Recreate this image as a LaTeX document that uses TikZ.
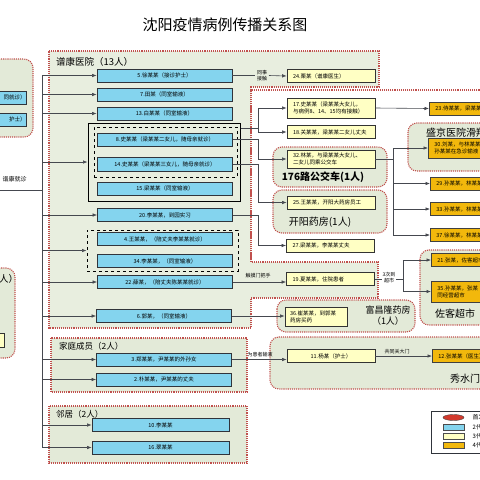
\documentclass[tikz,border=0pt]{standalone}
\usepackage{fontspec}
\usepackage{tikz}
\usetikzlibrary{arrows.meta,calc,positioning,shapes.geometric}
\setmainfont{Noto Sans CJK SC}
\definecolor{boxblue}{HTML}{84D4EE}
\definecolor{boxyellow}{HTML}{FFFFC4}
\definecolor{boxgold}{HTML}{F2B80C}
\definecolor{groupgreen}{HTML}{E3EAD8}
\definecolor{hospgreen}{HTML}{E8EEDF}
\definecolor{dotred}{HTML}{C0504D}
\definecolor{darkgray}{HTML}{30343B}
\definecolor{legendred}{HTML}{D23A2E}
\tikzset{
  bluebox/.style={draw=darkgray, line width=0.8pt, fill=boxblue, minimum width=135pt, minimum height=13pt, inner sep=1pt, font=\fontsize{5.5}{6.5}\selectfont},
  yellowbox/.style={draw=black!80, line width=0.8pt, fill=boxyellow, text width=76pt, inner xsep=6pt, inner ysep=1pt, minimum height=13pt, align=left, font=\fontsize{5.5}{7}\selectfont},
  goldbox/.style={draw=black!75, line width=0.8pt, fill=boxgold, anchor=west, text width=90pt, inner xsep=6pt, inner ysep=1pt, minimum height=13pt, align=left, font=\fontsize{5.5}{7}\selectfont},
  groupbox/.style={draw=dotred, densely dotted, line width=1.1pt, fill=groupgreen, rounded corners=9pt},
  squaregroup/.style={draw=dotred, densely dotted, line width=1.1pt, fill=groupgreen},
  grouptitle/.style={font=\fontsize{9.5}{11}\selectfont, inner sep=0pt, align=center},
  link/.style={darkgray!90, line width=0.6pt},
  arr/.style={link, -{Latex[length=4.5pt,width=3.5pt]}},
  lbl/.style={font=\fontsize{5}{6}\selectfont, inner sep=0.5pt, align=center}
}
\begin{document}
\begin{tikzpicture}[x=1pt,y=-1pt]
  \useasboundingbox (0,0) rectangle (480,480);
  \clip (0,0) rectangle (480,480);
  \node[font=\fontsize{15}{17}\selectfont] (title) at (225,25) {沈阳疫情病例传播关系图};

  % regions
  \draw[squaregroup, fill=hospgreen] (49,51) -- (379,51) -- (379,87) -- (251,87) -- (251,262) -- (378,262) -- (378,298) -- (251,298) -- (251,328) -- (49,328) -- cycle;
  \draw[draw=dotred, densely dotted, line width=1.1pt] (490,90) -- (251,90) -- (251,262);
  \node[grouptitle, anchor=west] (hosp) at (56,62) {谱康医院（13人）};
  \draw[groupbox] (-30,59) rectangle (33,137);
  \draw[groupbox] (-40,268) rectangle (15,358);
  \node[grouptitle, anchor=west] (leftcut) at (-1,279) {人）};
  \draw[groupbox] (273,147) rectangle (387,187);
  \node[grouptitle, font=\fontsize{10}{12}\selectfont\bfseries] (bus) at (323,177) {176路公交车(1人)};
  \draw[groupbox] (273,190) rectangle (387,233);
  \node[grouptitle, font=\fontsize{10}{12}\selectfont] (kaiyang) at (320,222) {开阳药房(1人)};
  \draw[groupbox] (277,300) rectangle (415,332);
  \node[grouptitle, font=\fontsize{9}{11}\selectfont] (fuchang) at (388,316) {富昌隆药房\\（1人）};
  \draw[groupbox] (408,123) rectangle (520,171);
  \node[grouptitle, anchor=west, font=\fontsize{10}{12}\selectfont] (shengjing) at (426,133) {盛京医院滑翔院区};
  \draw[groupbox] (420,250) rectangle (520,325);
  \node[grouptitle, font=\fontsize{10}{12}\selectfont] (zuoke) at (455,314) {佐客超市};
  \draw[groupbox] (270,337) rectangle (520,389);
  \node[grouptitle, anchor=west, font=\fontsize{10}{12}\selectfont] (xiushui) at (450,379) {秀水门诊};
  \draw[squaregroup] (51,338) rectangle (247,392);
  \node[grouptitle, anchor=west, font=\fontsize{8.5}{10}\selectfont] (family) at (59,346) {家庭成员（2人）};
  \draw[squaregroup] (49,406) rectangle (247,463);
  \node[grouptitle, anchor=west, font=\fontsize{8.5}{10}\selectfont] (neighbour) at (56,414) {邻居（2人）};

  % blue cases
  \node[bluebox, anchor=east, text width=60pt, align=right, minimum width=0pt] (pL1) at (27,97.5) {同就诊）};
  \node[bluebox, anchor=east, text width=60pt, align=right, minimum width=0pt] (pL2) at (27,119.5) {护士）};
  \node[draw=black!80, line width=0.8pt, fill=boxyellow, anchor=east, minimum width=50pt, minimum height=14pt] (pL3) at (5,340) {};
  \node[draw=black, line width=1pt, minimum width=152pt, minimum height=78pt] (sbox) at (164,162) {};
  \node[draw=black, dashed, line width=1pt, minimum width=143pt, minimum height=50pt] (dbox) at (165.5,152) {};
  \node[draw=black, dashed, line width=1pt, minimum width=151pt, minimum height=41pt] (dbox2) at (162.5,250.5) {};
  \node[bluebox] (p5) at (164.5,75.5) {5.徐某某（接诊护士）};
  \node[bluebox] (p7) at (164.5,94.5) {7.田某（同室输液）};
  \node[bluebox] (p13) at (164.5,113.5) {13.白某某（同室输液）};
  \node[bluebox] (p8) at (165,139.5) {8.史某某（梁某某二女儿，随母亲就诊）};
  \node[bluebox, minimum height=14pt] (p14) at (165,164.5) {14.史某某（梁某某三女儿，随母亲就诊）};
  \node[bluebox] (p15) at (165,188.5) {15.梁某某（同室输液）};
  \node[bluebox] (p20) at (165,215) {20.李某某，到园实习};
  \node[bluebox] (p4) at (165,239) {4.王某某，（陪丈夫李某某就诊）};
  \node[bluebox] (p34) at (165,261) {34.李某某，（同室输液）};
  \node[bluebox] (p22) at (165,282) {22.薛某，（陪丈夫陈某某就诊）};
  \node[bluebox] (p6) at (164,316) {6.郭某，（同室输液）};
  \node[bluebox] (p3) at (164,359.5) {3.郑某某，尹某某的外孙女};
  \node[bluebox] (p2) at (164,379.5) {2.朴某某，尹某某的丈夫};
  \node[bluebox, minimum width=137pt] (p10) at (160.5,425) {10.李某某};
  \node[bluebox, minimum width=137pt] (p16) at (160.5,447.5) {16.翠某某};

  % yellow cases
  \node[yellowbox] (p24) at (331,76) {24.栗某（谱康医生）};
  \node[yellowbox, minimum height=20pt] (p17) at (331,108) {17.史某某（梁某某大女儿，\\与病例8、14、15均有接触）};
  \node[yellowbox] (p18) at (331,132) {18.关某某，梁某某二女儿丈夫};
  \node[yellowbox, minimum height=18pt] (p32) at (331,159) {32.林某，与梁某某大女儿、\\二女儿同乘公交车};
  \node[yellowbox] (p25) at (331,202.5) {25.王某某，开阳大药房员工};
  \node[yellowbox] (p27) at (330.5,245.5) {27.梁某某，李某某丈夫};
  \node[yellowbox] (p19) at (330.5,279) {19.夏某某，住院患者};
  \node[yellowbox, text width=52pt, inner xsep=5pt, minimum height=19pt] (p36) at (316,316.5) {36.崔某某，到郭某\\药房买药};
  \node[yellowbox, align=center] (p11) at (331,356) {11.杨某（护士）};

  % gold cases
  \node[goldbox] (p23) at (429,108.5) {23.侍某某，梁某某};
  \node[goldbox, minimum height=20pt] (p30) at (428,148) {30.刘某，与林某某\\孙某某在急诊输液};
  \node[goldbox] (p29) at (430,183.5) {29.孙某某，林某某};
  \node[goldbox] (p33) at (430,209) {33.孙某某，林某某};
  \node[goldbox] (p37) at (430,235) {37.徐某某，林某某};
  \node[goldbox] (p21) at (431,260) {21.张某，佐客超市};
  \node[goldbox, minimum height=21pt] (p35) at (431,291.5) {35.孙某某，张某\\同经营超市};
  \node[goldbox] (p12) at (432,356) {12.张某某（医生）};

  % trunk from the left
  \coordinate (trunk) at (42,0);
  \coordinate (entry) at (0,190);
  \draw[link] (trunk |- p5.west) -- (trunk |- p16.west);
  \draw[link] (entry) -- (entry -| trunk);
  \node[lbl, font=\fontsize{6}{7}\selectfont, anchor=south west] (entrylbl) at (2,183) {谱康就诊};
  \foreach \n in {p5,p7,p13,sbox,p20,dbox2,p22,p6,p3,p2,p10,p16}
    \draw[arr] (trunk |- \n.west) -- (\n.west);

  % spread
  \coordinate (bend) at (258,0);
  \draw[link] (p5.east) -- (255,75.5);
  \draw[arr] (269,75.5) -- (p24.west);
  \node[lbl] (tongshi) at (262,75.5) {同事\\接触};
  \coordinate (j17) at (258,128);
  \draw[link] (sbox.east |- j17) -- (j17);
  \draw[link] (j17 |- p17.west) -- (j17 |- p18.west);
  \draw[arr] (j17 |- p17.west) -- (p17.west);
  \draw[arr] (j17 |- p18.west) -- (p18.west);
  \draw[arr] (p8.east) -- (bend |- p8.east) |- (p32.west);
  \draw[arr] (p14.east) -- (bend |- p14.east) |- (p25.west);
  \draw[arr] (p20.east) -- (bend |- p20.east) |- (p27.west);
  \draw[arr] (p17.east) -- (p23.west);
  \draw[link] (p32.east) -- ++(18,0) coordinate (j32);
  \draw[link] (j32 |- p30.west) -- (j32 |- p37.west);
  \foreach \n in {p30,p29,p33,p37}
    \draw[arr] (j32 |- \n.west) -- (\n.west);
  \draw[arr] (p22.east) -- (p22.east -| p19.west);
  \node[lbl, anchor=south] (doorlbl) at (258,279) {触摸门把手};
  \draw[link] (p19.east) -- ++(28,0) coordinate (j19);
  \draw[link] (j19 |- p21.west) -- (j19 |- p35.west);
  \draw[arr] (j19 |- p21.west) -- (p21.west);
  \draw[arr] (j19 |- p35.west) -- (p35.west);
  \node[lbl, fill=white] (marketlbl) at (389,278) {3次到\\超市};
  \draw[arr] (p6.east) -- (p6.east -| p36.west);
  \draw[arr] (p3.east) -- (p3.east -| p11.west);
  \node[lbl, anchor=south] (infuselbl) at (260,358) {为患者输液};
  \draw[arr] (p11.east) -- (p12.west);
  \node[lbl, anchor=south] (gatelbl) at (397,355) {共同关大门};

  % legend
  \draw[darkgray, line width=0.9pt, fill=white] (431,411) rectangle (520,453);
  \node[draw=black!70, fill=legendred, ellipse, minimum width=21pt, minimum height=6pt, inner sep=0pt] (lg1) at (453.5,417.5) {};
  \node[draw=black!70, fill=boxblue, minimum width=21pt, minimum height=6pt, inner sep=0pt] (lg2) at (453.5,427) {};
  \node[draw=black!70, fill=boxyellow, minimum width=21pt, minimum height=6pt, inner sep=0pt] (lg3) at (453.5,436) {};
  \node[draw=black!70, fill=boxgold, minimum width=21pt, minimum height=6pt, inner sep=0pt] (lg4) at (453.5,445) {};
  \node[lbl, font=\fontsize{6}{7}\selectfont, anchor=west] at (472,417.5) {首发病例};
  \node[lbl, font=\fontsize{6}{7}\selectfont, anchor=west] at (472,427) {2代病例};
  \node[lbl, font=\fontsize{6}{7}\selectfont, anchor=west] at (472,436) {3代病例};
  \node[lbl, font=\fontsize{6}{7}\selectfont, anchor=west] at (472,445) {4代病例};
\end{tikzpicture}
\end{document}
